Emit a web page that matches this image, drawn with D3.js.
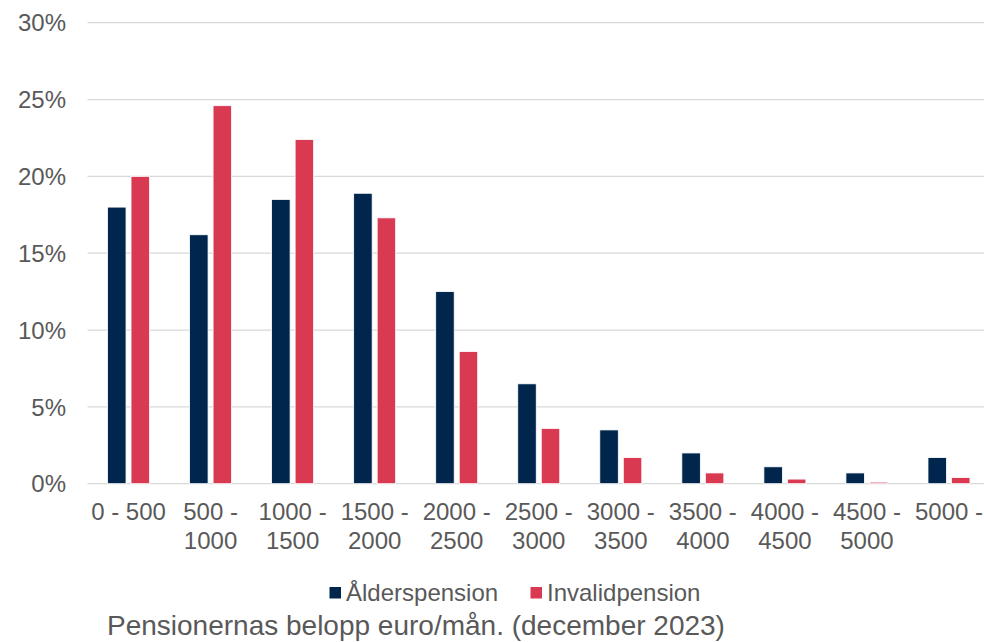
<!DOCTYPE html>
<html>
<head>
<meta charset="utf-8">
<script src="https://cdn.jsdelivr.net/npm/d3@7"></script>
<style>
  body { margin: 0; background: #fff; }
  text { font-family: "Liberation Sans", Arial, sans-serif; fill: #595959; }
</style>
</head>
<body>
<div class="center"></div>
<script>
// chart data
const categories = ["0 - 500", "500 - 1000", "1000 - 1500", "1500 - 2000", "2000 - 2500",
                    "2500 - 3000", "3000 - 3500", "3500 - 4000", "4000 - 4500", "4500 - 5000", "5000 -"];
const seriesNames = ["Ålderspension", "Invalidpension"];
const alderValues = [18.0, 16.2, 18.5, 18.9, 12.5, 6.5, 3.5, 2.0, 1.1, 0.7, 1.7];
const invalidValues = [20.0, 24.6, 22.4, 17.3, 8.6, 3.6, 1.7, 0.7, 0.3, 0.1, 0.4];
const yTicks = [0, 5, 10, 15, 20, 25, 30];
const xTitle = "Pensionernas belopp euro/mån. (december 2023)";

const W = 984, H = 642;
const plot = {left: 87.5, right: 990, top: 22.7, bottom: 483.7};

const colorScale = d3.scaleOrdinal().domain(seriesNames).range(["#00264d", "#d93a52"]);

const svg = d3.select(".center").append("svg")
    .attr("width", W)
    .attr("height", H);

// scales
const xScale = d3.scaleBand().domain(categories).range([plot.left, plot.right]).padding(0);
const bw = xScale.bandwidth();
const xInner = d3.scaleBand().domain(seriesNames)
    .range([bw / 2 - 21, bw / 2 + 21]).paddingInner(0.213).paddingOuter(0);
const yScale = d3.scaleLinear().domain([0, 30]).range([plot.bottom, plot.top]);

// gridlines
svg.append("g")
    .selectAll("line")
    .data(yTicks)
    .enter().append("line")
    .attr("x1", plot.left)
    .attr("x2", W)
    .attr("y1", d => yScale(d))
    .attr("y2", d => yScale(d))
    .attr("stroke", "#d9d9d9")
    .attr("stroke-width", 1.3);

// y labels
svg.append("g")
    .selectAll("text")
    .data(yTicks)
    .enter().append("text")
    .attr("x", 66)
    .attr("y", d => yScale(d))
    .attr("dy", "0.36em")
    .attr("text-anchor", "end")
    .style("font-size", "24px")
    .text(d => d + "%");

// bars
const rows = categories.map((c, i) => ({cat: c, vals: [alderValues[i], invalidValues[i]]}));
const groups = svg.append("g")
    .selectAll("g")
    .data(rows)
    .enter().append("g")
    .attr("transform", d => `translate(${xScale(d.cat)},0)`);

groups.selectAll("rect")
    .data(d => d.vals.map((v, j) => ({name: seriesNames[j], value: v})))
    .enter().append("rect")
    .attr("x", d => xInner(d.name))
    .attr("width", xInner.bandwidth())
    .attr("y", d => yScale(d.value))
    .attr("height", d => yScale(0) - yScale(d.value))
    .attr("fill", d => colorScale(d.name))
    .attr("stroke", "#ffffff")
    .attr("stroke-width", 0.8);

// x labels, wrapped like the original
const xLab = svg.append("g")
    .selectAll("text")
    .data(categories)
    .enter().append("text")
    .attr("text-anchor", "middle")
    .attr("x", d => xScale(d) + bw / 2)
    .attr("y", 520)
    .style("font-size", "24px");

xLab.each(function(d) {
    const parts = d.split(" - ");
    let lines;
    if (d === "0 - 500") lines = [d];
    else if (parts.length > 1) lines = [parts[0] + " -", parts[1]];
    else lines = [d];
    d3.select(this).selectAll("tspan")
        .data(lines)
        .enter().append("tspan")
        .attr("x", xScale(d) + bw / 2)
        .attr("dy", (l, k) => k === 0 ? 0 : 29.3)
        .text(l => l);
});

// legend
const legendX = [329.5, 530.5];
const legend = svg.append("g")
    .selectAll("g")
    .data(seriesNames)
    .enter().append("g")
    .attr("transform", (d, i) => `translate(${legendX[i]},587)`);

legend.append("rect")
    .attr("width", 11.5)
    .attr("height", 11.5)
    .attr("fill", d => colorScale(d));

legend.append("text")
    .attr("x", 16.5)
    .attr("y", 14)
    .style("font-size", "24px")
    .text(d => d);

// axis title
svg.append("text")
    .attr("x", 107)
    .attr("y", 635)
    .style("font-size", "28px")
    .text(xTitle);
</script>
</body>
</html>
